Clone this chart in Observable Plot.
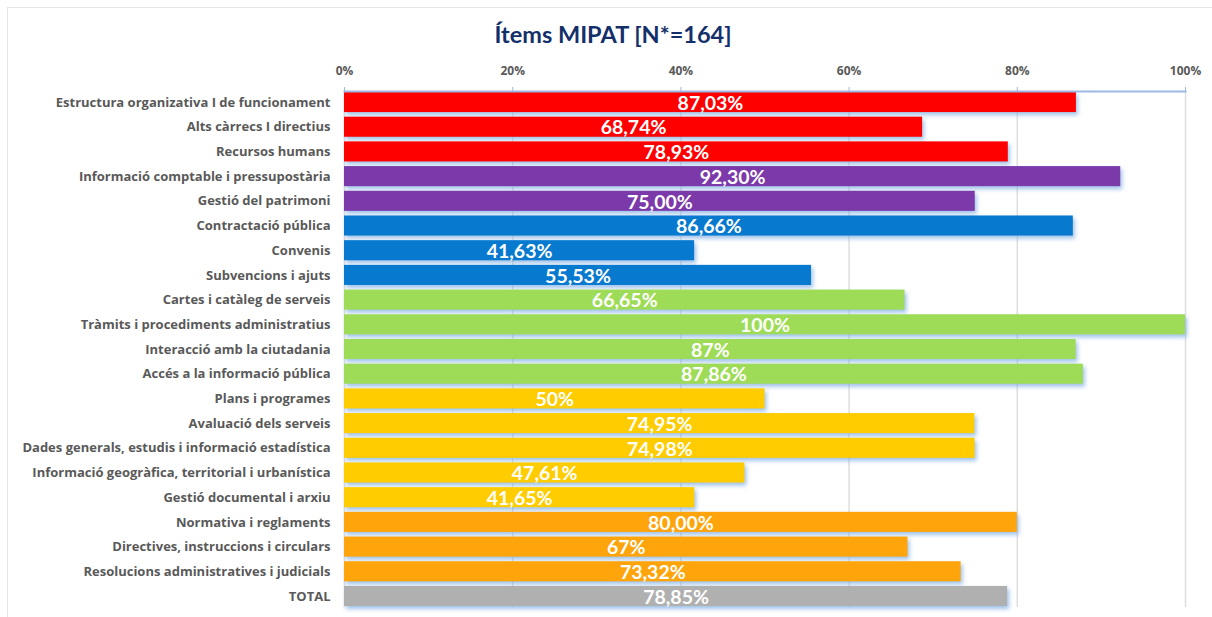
<!DOCTYPE html>
<html>
<head>
<meta charset="utf-8">
<script src="https://cdn.jsdelivr.net/npm/d3@7"></script>
<script src="https://cdn.jsdelivr.net/npm/@observablehq/plot@0.6"></script>
<style>
  html, body { margin: 0; padding: 0; background: #fff; }
  #wrap { position: relative; width: 1212px; height: 617px; overflow: hidden; font-family: Lato, "Open Sans", sans-serif; }
  #border { position: absolute; left: 7px; top: 7px; width: 1230px; height: 640px; border-top: 1.5px solid #e6e6e6; border-left: 1.5px solid #e6e6e6; }
  #title { position: absolute; left: 0; top: 0; width: 1226px; height: 50px; line-height: 68px; text-align: center; font-size: 23.5px; font-weight: 700; color: #14306a; }
  #chart { position: absolute; left: 0; top: 50px; }
</style>
</head>
<body>
<div id="wrap">
  <div id="border"></div>
  <div id="title">Ítems MIPAT [N*=164]</div>
  <div id="chart"></div>
</div>
<script>
const categories = [
  "Estructura organizativa I de funcionament",
  "Alts càrrecs I directius",
  "Recursos humans",
  "Informació comptable i pressupostària",
  "Gestió del patrimoni",
  "Contractació pública",
  "Convenis",
  "Subvencions i ajuts",
  "Cartes i catàleg de serveis",
  "Tràmits i procediments administratius",
  "Interacció amb la ciutadania",
  "Accés a la informació pública",
  "Plans i programes",
  "Avaluació dels serveis",
  "Dades generals, estudis i informació estadística",
  "Informació geogràfica, territorial i urbanística",
  "Gestió documental i arxiu",
  "Normativa i reglaments",
  "Directives, instruccions i circulars",
  "Resolucions administratives i judicials",
  "TOTAL"
];
const values = [87.03, 68.74, 78.93, 92.30, 75.00, 86.66, 41.63, 55.53, 66.65, 100, 87, 87.86, 50, 74.95, 74.98, 47.61, 41.65, 80.00, 67, 73.32, 78.85];
const valueLabels = ["87,03%", "68,74%", "78,93%", "92,30%", "75,00%", "86,66%", "41,63%", "55,53%", "66,65%", "100%", "87%", "87,86%", "50%", "74,95%", "74,98%", "47,61%", "41,65%", "80,00%", "67%", "73,32%", "78,85%"];
const groups = ["A", "A", "A", "B", "B", "C", "C", "C", "D", "D", "D", "D", "E", "E", "E", "E", "E", "F", "F", "F", "T"];
const groupDomain = ["A", "B", "C", "D", "E", "F", "T"];
const palette = ["#ff0000", "#7b39aa", "#0779cf", "#9edc58", "#ffcc00", "#ffa40a", "#b0b0b0"];
const xTicks = [0, 20, 40, 60, 80, 100];

const rows = categories.map((c, i) => ({category: c, value: values[i], label: valueLabels[i], group: groups[i]}));

const chart = Plot.plot({
  width: 1212,
  height: 567,
  marginTop: 41,
  marginBottom: 10,
  marginLeft: 344,
  marginRight: 27,
  style: {fontFamily: "Lato, 'Open Sans', sans-serif", background: "transparent"},
  x: {domain: [0, 100]},
  y: {domain: categories, paddingInner: 0.187, paddingOuter: 0.04, round: false},
  color: {domain: groupDomain, range: palette},
  marks: [
    Plot.ruleX(xTicks, {stroke: "#dedede", strokeWidth: 1.5}),
    Plot.barX(rows, {y: "category", x: "value", fill: "group"}),
    Plot.text(rows, {y: "category", x: d => d.value / 2, text: "label", fill: "white", fontSize: 19.5, fontWeight: 700, dy: 1}),
    Plot.frame({anchor: "top", stroke: "#9db8e2", strokeWidth: 2}),
    Plot.axisX(xTicks, {anchor: "top", tickSize: 5, stroke: "#9db8e2", tickFormat: d => d + "%", fill: "#595959", fontFamily: "'Open Sans', sans-serif", fontSize: 12, fontWeight: 700, tickPadding: 12, label: null}),
    Plot.axisY({tickSize: 0, tickPadding: 14, fill: "#595959", fontFamily: "'Open Sans', sans-serif", fontSize: 13, fontWeight: 700, label: null})
  ]
});
const barG = chart.querySelector('g[aria-label="bar"]');
if (barG) barG.style.filter = "drop-shadow(2px 3px 2px rgba(120,170,225,0.7))";
document.getElementById("chart").appendChild(chart);
</script>
</body>
</html>
